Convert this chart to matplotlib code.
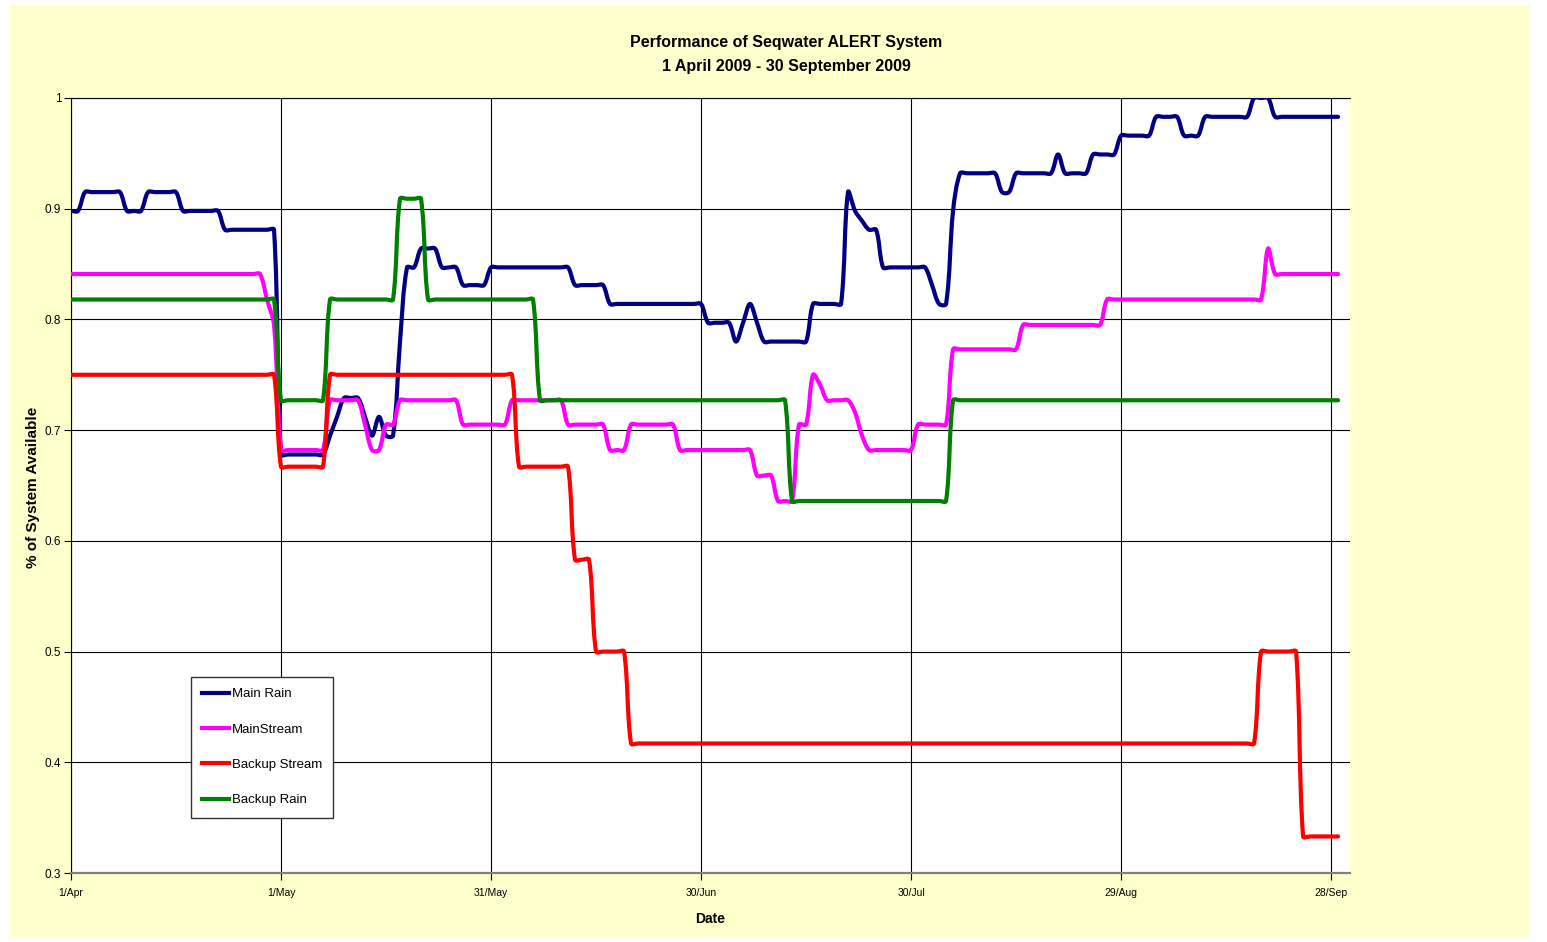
import numpy as np
import matplotlib
matplotlib.use("Agg")
import matplotlib.pyplot as plt
from matplotlib.path import Path
from matplotlib.patches import PathPatch, Rectangle
from matplotlib.lines import Line2D

plt.rcParams['font.family'] = ['Liberation Sans', 'DejaVu Sans']

# day index 0 = 1 April 2009; each list gives the day a new value starts
last_day = 181

main_rain_days = [0, 2, 8, 11, 16, 22, 30, 37, 38, 39, 42, 43, 44, 45, 47, 48, 50, 53, 56, 60,
                  72, 77, 91, 95, 96, 97, 98, 99, 106, 111, 112, 113, 114, 116, 123, 124, 126,
                  127, 133, 135, 141, 142, 146, 150, 155, 159, 162, 169, 172]
main_rain_vals = [0.898, 0.915, 0.898, 0.915, 0.898, 0.881, 0.678, 0.695, 0.712, 0.729, 0.712,
                  0.695, 0.712, 0.695, 0.780, 0.847, 0.864, 0.847, 0.831, 0.847,
                  0.831, 0.814, 0.797, 0.780, 0.797, 0.814, 0.797, 0.780, 0.814, 0.915, 0.898,
                  0.889, 0.881, 0.847, 0.831, 0.814, 0.898,
                  0.932, 0.915, 0.932, 0.949, 0.932, 0.949, 0.966, 0.983, 0.966, 0.983, 1.0, 0.983]

main_stream_days = [0, 28, 29, 30, 37, 42, 43, 45, 47, 56, 63, 71, 77, 80, 87, 98, 101, 104,
                    106, 107, 108, 112, 113, 114, 121, 126, 136, 148, 171, 172]
main_stream_vals = [0.841, 0.818, 0.795, 0.682, 0.727, 0.705, 0.682, 0.705, 0.727, 0.705, 0.727,
                    0.705, 0.682, 0.705, 0.682, 0.659, 0.636, 0.705,
                    0.750, 0.741, 0.727, 0.716, 0.695, 0.682, 0.705, 0.773, 0.795, 0.818, 0.864, 0.841]

backup_stream_days = [0, 30, 37, 64, 72, 75, 80, 170, 176]
backup_stream_vals = [0.750, 0.667, 0.750, 0.667, 0.583, 0.500, 0.417, 0.500, 0.333]

backup_rain_days = [0, 30, 37, 47, 51, 67, 103, 126]
backup_rain_vals = [0.818, 0.727, 0.818, 0.909, 0.818, 0.727, 0.636, 0.727]

series_names = ['Main Rain', 'MainStream', 'Backup Stream', 'Backup Rain']
series_colors = ['#000080', '#FF00FF', '#FF0000', '#008000']

tick_days = [0, 30, 60, 90, 120, 150, 180]
tick_labels = ['1/Apr', '1/May', '31/May', '30/Jun', '30/Jul', '29/Aug', '28/Sep']
y_ticks = [0.3, 0.4, 0.5, 0.6, 0.7, 0.8, 0.9, 1.0]
y_labels = ['0.3', '0.4', '0.5', '0.6', '0.7', '0.8', '0.9', '1']


def daily(days, vals):
    runs = np.diff(list(days) + [last_day + 1])
    return np.repeat(vals, runs)


def smooth_path(ax, x, y):
    # Excel style smoothed line, worked out in pixel space, tangents shared by chord length
    pix = ax.transData.transform(np.column_stack([x, y]))
    n = len(pix)
    d = np.hypot(*np.diff(pix, axis=0).T)
    verts = [pix[0]]
    codes = [Path.MOVETO]
    for i in range(n - 1):
        p1, p2 = pix[i], pix[i + 1]
        p0 = pix[i - 1] if i > 0 else p1
        p3 = pix[i + 2] if i + 2 < n else p2
        d0 = d[i - 1] if i > 0 else 0.0
        d1 = d[i]
        d2 = d[i + 1] if i + 2 < n else 0.0
        c1 = p1 + (p2 - p0) / 3.0 * (d1 / (d0 + d1) if d0 + d1 > 0 else 0)
        c2 = p2 - (p3 - p1) / 3.0 * (d1 / (d1 + d2) if d1 + d2 > 0 else 0)
        verts += [c1, c2, p2]
        codes += [Path.CURVE4] * 3
    verts = ax.transData.inverted().transform(np.array(verts))
    return Path(verts, codes)


W, H = 1547, 942
fig = plt.figure(figsize=(W / 100, H / 100), dpi=100)
fig.patch.set_facecolor('white')
fig.patches.append(Rectangle((10 / W, 5 / H), 1520 / W, 932 / H, transform=fig.transFigure,
                             facecolor='#FFFFCC', edgecolor='none', zorder=-10))

ax = fig.add_axes([71 / W, 1 - 873 / H, (1350 - 71) / W, (873 - 98) / H])
ax.set_facecolor('white')
ax.set_xlim(0, 182.7)
ax.set_ylim(0.3, 1.0)

x = np.arange(last_day + 1)
all_days = [main_rain_days, main_stream_days, backup_stream_days, backup_rain_days]
all_vals = [main_rain_vals, main_stream_vals, backup_stream_vals, backup_rain_vals]
handles = []
for k in range(4):
    y = daily(all_days[k], all_vals[k])
    patch = PathPatch(smooth_path(ax, x, y), facecolor='none', edgecolor=series_colors[k],
                      lw=3, capstyle='round', joinstyle='round', zorder=3 + k)
    ax.add_patch(patch)
    handles.append(Line2D([], [], color=series_colors[k], lw=3, label=series_names[k]))

ax.set_xticks(tick_days)
ax.set_xticklabels(tick_labels, fontsize=7.5)
ax.set_yticks(y_ticks)
ax.set_yticklabels(y_labels, fontsize=8.5)
ax.grid(True, color='black', lw=0.8)
ax.set_axisbelow(True)
ax.tick_params(axis='both', direction='out', length=5, color='black', width=0.8)
ax.tick_params(axis='x', pad=6)
ax.tick_params(axis='y', pad=2)
ax.spines['right'].set_visible(False)
ax.spines['top'].set_color('black')
ax.spines['top'].set_linewidth(0.8)
ax.spines['left'].set_color('black')
ax.spines['left'].set_linewidth(0.8)
ax.spines['bottom'].set_color('#808080')
ax.spines['bottom'].set_linewidth(1.6)

fig.text(786 / W, 1 - 42 / H, 'Performance of Seqwater ALERT System', ha='center', va='center',
         fontsize=11.5, fontweight='bold')
fig.text(786 / W, 1 - 67 / H, '1 April 2009 - 30 September 2009', ha='center', va='center',
         fontsize=11.5, fontweight='bold')
fig.text(710 / W, 1 - 919 / H, 'Date', ha='center', va='center', fontsize=10, fontweight='bold')
fig.text(33 / W, 1 - 487 / H, '% of System Available', ha='center', va='center', rotation=90,
         fontsize=11, fontweight='bold')

leg = ax.legend(handles=handles, loc='upper left', bbox_to_anchor=(191 / W, 1 - 677 / H),
                bbox_transform=fig.transFigure, fontsize=9.5, frameon=True, fancybox=False,
                edgecolor='#333333', framealpha=1, labelspacing=1.75, handlelength=2.0,
                handletextpad=0.25, borderpad=0.85, borderaxespad=0)
leg.get_frame().set_linewidth(1.0)
leg.set_zorder(10)

fig.savefig('out.png', dpi=100, facecolor=fig.get_facecolor())
